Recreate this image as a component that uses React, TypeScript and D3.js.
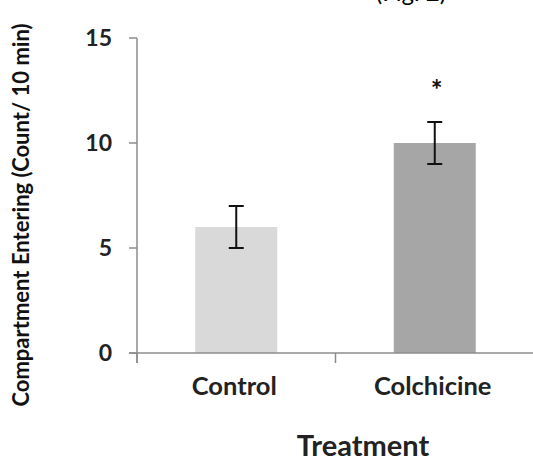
import React from "react";
import * as d3 from "d3";

const categories = ["Control", "Colchicine"];
const means = [6, 10];
const errors = [1, 1];
const barColors = ["#d9d9d9", "#a6a6a6"];
const significance = ["", "*"];
const yTicks = [0, 5, 10, 15];
const yTitle = "Compartment Entering (Count/ 10 min)";
const xTitle = "Treatment";
const topCaption = "(Fig. 2)";

const W = 533;
const H = 462;
const FONT = "Lato, 'Open Sans', sans-serif";

export default function App() {
  const x = d3.scaleBand<string>().domain(categories).range([137, 534]).paddingInner(0.587).paddingOuter(0.2935);
  const y = d3.scaleLinear().domain([0, 15]).range([353, 38]);
  const step = x.step();
  const boundaries = [137, 137 + step, 137 + 2 * step];
  const axisColor = "#8c8c8c";

  return (
    <svg width={W} height={H} style={{ position: "absolute", left: 0, top: 0, background: "#fff" }} fontFamily={FONT}>
      <rect x={0} y={0} width={W} height={H} fill="#fff" />
      <text x={411} y={1} textAnchor="middle" fontSize={24} fill="#000">{topCaption}</text>
      {/* bars */}
      {categories.map((c, i) => (
        <rect key={c} x={x(c)} y={y(means[i])} width={x.bandwidth()} height={y(0) - y(means[i])} fill={barColors[i]} />
      ))}
      {/* y axis */}
      <line x1={137} x2={137} y1={y(15)} y2={y(0) + 10} stroke={axisColor} strokeWidth={1.5} />
      {yTicks.map((t) => (
        <g key={t}>
          <line x1={129} x2={137} y1={y(t)} y2={y(t)} stroke={axisColor} strokeWidth={1.5} />
          <text x={112} y={y(t)} dy="0.36em" textAnchor="end" fontSize={23} fontWeight="bold" fill="#222">{t}</text>
        </g>
      ))}
      {/* x axis */}
      <line x1={129} x2={534} y1={y(0)} y2={y(0)} stroke={axisColor} strokeWidth={1.5} />
      {boundaries.map((b, i) => (
        <line key={i} x1={b} x2={b} y1={y(0)} y2={y(0) + 10} stroke={axisColor} strokeWidth={1.5} />
      ))}
      {/* error bars */}
      {categories.map((c, i) => {
        const cx = (x(c) as number) + x.bandwidth() / 2;
        const top = y(means[i] + errors[i]);
        const bot = y(means[i] - errors[i]);
        return (
          <g key={c} stroke="#111" strokeWidth={2}>
            <line x1={cx} x2={cx} y1={top} y2={bot} />
            <line x1={cx - 7.5} x2={cx + 7.5} y1={top} y2={top} />
            <line x1={cx - 7.5} x2={cx + 7.5} y1={bot} y2={bot} />
          </g>
        );
      })}
      {/* significance */}
      {categories.map((c, i) => (
        <text key={c} x={(x(c) as number) + x.bandwidth() / 2 + 2} y={y(means[i] + errors[i]) - 22} textAnchor="middle" fontSize={28} fontWeight="bold" fill="#111">{significance[i]}</text>
      ))}
      {/* category labels */}
      {categories.map((c) => (
        <text key={c} x={(x(c) as number) + x.bandwidth() / 2 - 2} y={395} textAnchor="middle" fontSize={25.5} fontWeight="bold" fill="#222">{c}</text>
      ))}
      <text x={363} y={456} textAnchor="middle" fontSize={29} fontWeight="bold" fill="#222">{xTitle}</text>
      <text transform={`translate(29, 215) rotate(-90)`} textAnchor="middle" fontSize={22} fontWeight="bold" fill="#111">{yTitle}</text>
    </svg>
  );
}
